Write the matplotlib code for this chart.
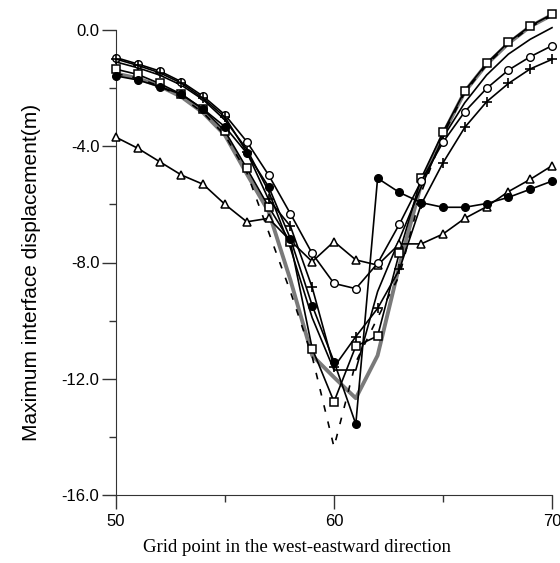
import numpy as np
import matplotlib
matplotlib.use("Agg")
import matplotlib.pyplot as plt
from matplotlib.ticker import MultipleLocator, FormatStrFormatter

plt.rcParams['font.family'] = ['Liberation Sans', 'DejaVu Sans']
plt.rcParams['axes.unicode_minus'] = False

# grid points along the west-east line
grid = np.arange(50, 71)

circles = [-0.95, -1.17, -1.41, -1.78, -2.28, -2.92, -3.84, -4.99, -6.32, -7.69, -8.72,
           -8.90, -8.03, -6.68, -5.20, -3.86, -2.81, -2.01, -1.38, -0.92, -0.54]
plus = [-1.00, -1.22, -1.47, -1.83, -2.35, -3.00, -4.20, -5.83, -6.75, -8.86, -11.60,
        -10.55, -9.58, -8.24, -6.00, -4.57, -3.35, -2.47, -1.84, -1.34, -1.01]
filled = [-1.58, -1.72, -1.95, -2.21, -2.72, -3.33, -4.24, -5.39, -7.18, -9.48, -11.41,
          -13.56, -5.10, -5.59, -5.94, -6.10, -6.10, -5.97, -5.76, -5.48, -5.20]
squares = [-1.35, -1.53, -1.84, -2.21, -2.73, -3.48, -4.76, -6.08, -7.30, -10.96, -12.79,
           -10.88, -10.53, -7.66, -5.10, -3.52, -2.09, -1.15, -0.42, 0.14, 0.54]
triangles = [-3.69, -4.07, -4.53, -4.99, -5.31, -6.00, -6.60, -6.48, -7.25, -7.97, -7.28,
             -7.91, -8.09, -7.36, -7.36, -7.02, -6.48, -6.08, -5.56, -5.14, -4.67]
gray = [-1.50, -1.66, -1.93, -2.30, -2.85, -3.62, -4.95, -6.25, -8.60, -11.20, -11.95,
        -12.67, -11.20, -8.10, -5.30, -3.58, -2.12, -1.18, -0.46, 0.12, 0.52]
dashed = [-1.50, -1.66, -1.93, -2.30, -2.85, -3.62, -4.90, -6.95, -9.00, -11.24, -14.35,
          -11.43, -9.90, -8.45, -5.60, -3.62, -2.15, -1.20, -0.48, 0.10, 0.50]
plain = [-1.10, -1.30, -1.55, -1.90, -2.40, -3.10, -4.10, -5.55, -7.50, -9.90, -11.70,
         -11.70, -9.00, -7.20, -5.40, -3.70, -2.50, -1.55, -0.83, -0.32, 0.08]

W, H = 560, 563
fig = plt.figure(figsize=(W / 100, H / 100), dpi=100)
ytop = 0.6
px_per_unit = (495 - 30) / 16.0
top_px = 30 - ytop * px_per_unit
ax = fig.add_axes([116 / W, 1 - 495 / H, 436 / W, (495 - top_px) / H])

ax.plot(grid, gray, color='#7a7a7a', lw=2.8, clip_on=False, zorder=2)
ax.plot(grid, dashed, color='black', lw=1.2, dashes=(4, 6), clip_on=False, zorder=2)
ax.plot(grid, plain, color='black', lw=1.2, clip_on=False, zorder=3)

mk = dict(color='black', lw=1.2, clip_on=False, zorder=4)
ax.plot(grid, triangles, marker='^', ms=5.8, mfc='white', mec='black', mew=1.1, **mk)
ax.plot(grid, squares, marker='s', ms=5.8, mfc='white', mec='black', mew=1.1, **mk)
ax.plot(grid, filled, marker='o', ms=5.5, mfc='black', mec='black', **mk)
ax.plot(grid, circles, marker='o', ms=5.5, mfc='white', mec='black', mew=1.0, **mk)
ax.plot(grid, plus, marker='+', ms=7.5, mec='black', mew=1.2, **mk)

ax.set_xlim(50, 70)
ax.set_ylim(-16, ytop)
for s in ['top', 'right']:
    ax.spines[s].set_visible(False)
ax.spines['left'].set_bounds(-16, 0)
ax.spines['left'].set_color('#333333')
ax.spines['bottom'].set_color('#333333')

ax.set_xticks([50, 60, 70])
ax.set_xticks([55, 65], minor=True)
ax.set_yticks([0, -4, -8, -12, -16])
ax.set_yticks([-2, -6, -10, -14], minor=True)
ax.yaxis.set_major_formatter(FormatStrFormatter('%.1f'))
ax.tick_params(which='major', length=10, width=1, color='#333333', labelsize=12)
ax.tick_params(axis='y', which='major', pad=2)
ax.tick_params(axis='x', which='major', pad=4)
ax.tick_params(which='minor', length=5, width=1, color='#333333')

fig.text(32 / W, 1 - 272 / H, 'Maximum interface displacement(m)', fontsize=15,
         rotation=90, ha='center', va='center')
fig.text(297 / W, 1 - 548 / H, 'Grid point in the west-eastward direction', fontsize=13.5,
         family=['Liberation Serif', 'DejaVu Serif'], ha='center', va='center')

fig.savefig('out.png', dpi=100)
